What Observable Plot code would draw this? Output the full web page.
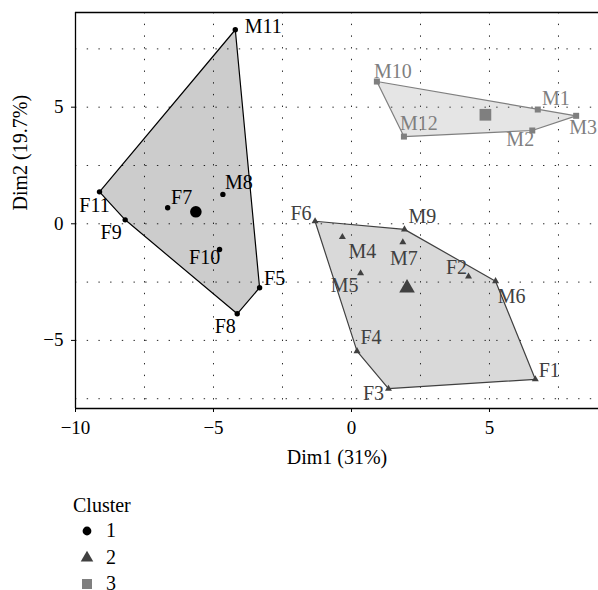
<!DOCTYPE html>
<html>
<head>
<meta charset="utf-8">
<script src="https://cdn.jsdelivr.net/npm/d3@7"></script>
<script src="https://cdn.jsdelivr.net/npm/@observablehq/plot@0.6"></script>
<style>
  html, body { margin: 0; padding: 0; background: #fff; }
  #wrap { position: relative; width: 598px; height: 590px; overflow: hidden; font-family: "Liberation Serif", serif; }
  #legend { position: absolute; left: 0; top: 0; width: 598px; height: 590px; pointer-events: none; }
  .lg { position: absolute; font-size: 20px; line-height: 24px; color: #000; white-space: nowrap; }
</style>
</head>
<body>
<div id="wrap"><div id="chart"></div><div id="legend"></div></div>
<script>
// ---- data ----
const names = ["M11","F11","F9","F7","M8","F10","F5","F8",
               "F6","M9","M4","M7","M5","F2","M6","F4","F3","F1",
               "M10","M1","M3","M2","M12"];
const dim1 = [-4.21,-9.13,-8.20,-6.66,-4.66,-4.78,-3.33,-4.14,
              -1.32, 1.92,-0.33, 1.86, 0.33, 4.24, 5.22, 0.20, 1.34, 6.66,
               0.92, 6.75, 8.14, 6.55, 1.90];
const dim2 = [ 8.32, 1.37, 0.17, 0.69, 1.26,-1.10,-2.74,-3.86,
               0.11,-0.24,-0.57,-0.79,-2.12,-2.26,-2.46,-5.46,-7.07,-6.67,
               6.10, 4.90, 4.63, 4.00, 3.74];
const cluster = ["1","1","1","1","1","1","1","1",
                 "2","2","2","2","2","2","2","2","2","2",
                 "3","3","3","3","3"];
const clusters = ["1","2","3"];
const xTicks = [-10, -5, 0, 5];
const yTicks = [-5, 0, 5];

// ---- styles ----
const clusterColors = ["#000000", "#404040", "#7f7f7f"];
const clusterSymbols = ["circle", "triangle", "square"];
const pointR = {"1": 2.7, "2": 2.6, "3": 3.4};
const centroidR = {"1": 5.8, "2": 5.8, "3": 6.6};
const legendSymbolArea = [Math.PI * 4.4 * 4.4, 68, 100];
const xDomain = [-10, 8.95];
const yDomain = [-7.92, 9.06];
// label nudges in pixels (text centre relative to point)
const labelNudge = {
  M11:[28,-3], F11:[-5,14], F9:[-14,13], F7:[14,-10], M8:[16,-12], F10:[-15,8], F5:[15,-9], F8:[-12,13],
  F6:[-14,-8], M9:[18,-13], M4:[20,15], M7:[1,16], M5:[-16,12], F2:[-12,-9], M6:[16,15], F4:[14,-14], F3:[-15,5], F1:[14,-9],
  M10:[16,-10], M1:[18,-11], M3:[7,12], M2:[-12,9], M12:[15,-13]
};

const data = names.map((n, i) => ({name: n, x: dim1[i], y: dim2[i], cluster: cluster[i]}));
const centroids = clusters.map(c => {
  const v = data.filter(d => d.cluster === c);
  return {cluster: c, x: d3.mean(v, d => d.x), y: d3.mean(v, d => d.y)};
});
const gridXs = d3.range(-10, xDomain[1], 2.5);
const gridYs = d3.range(-7.5, yDomain[1], 2.5);

const font = "Liberation Serif";
const dotMarks = [];
clusters.forEach((c, i) => {
  dotMarks.push(Plot.dot(data.filter(d => d.cluster === c), {
    x: "x", y: "y", symbol: () => clusterSymbols[i], fill: clusterColors[i], r: pointR[c]
  }));
  dotMarks.push(Plot.dot(centroids.filter(d => d.cluster === c), {
    x: "x", y: "y", symbol: () => clusterSymbols[i], fill: clusterColors[i], r: centroidR[c]
  }));
});

const chart = Plot.plot({
  width: 598,
  height: 480,
  marginTop: 12,
  marginBottom: 72,
  marginLeft: 75,
  marginRight: 0,
  style: {fontFamily: font, fontSize: "19px", color: "#000", background: "#fff"},
  x: {domain: xDomain},
  y: {domain: yDomain},
  color: {domain: clusters, range: clusterColors},
  symbol: {domain: clusterSymbols, range: clusterSymbols},
  marks: [
    Plot.gridX(gridXs, {stroke: "#000", strokeOpacity: 0.85, strokeDasharray: "1.4,10.3"}),
    Plot.gridY(gridYs, {stroke: "#000", strokeOpacity: 0.85, strokeDasharray: "1.4,10.3"}),
    Plot.hull(data, {x: "x", y: "y", z: "cluster", fill: "cluster", fillOpacity: 0.2, stroke: "cluster", strokeWidth: 1.2}),
    ...dotMarks,
    Plot.text(data, {x: "x", y: "y", text: "name", fill: "cluster", fontSize: 20}),
    Plot.ruleX([xDomain[0]], {stroke: "#000", strokeWidth: 1.3}),
    Plot.ruleY(yDomain, {stroke: "#000", strokeWidth: 1.3}),
    Plot.axisX(xTicks, {tickSize: 4, tickPadding: 8, fontSize: 19, label: null}),
    Plot.axisY(yTicks, {tickSize: 4, tickPadding: 8, fontSize: 19, label: null}),
    Plot.text(["Dim1 (31%)"], {frameAnchor: "bottom", text: d => d, dy: 55, fontSize: 20}),
    Plot.text(["Dim2 (19.7%)"], {frameAnchor: "left", text: d => d, rotate: -90, dx: -55, fontSize: 20})
  ]
});
document.getElementById("chart").appendChild(chart);

// apply label nudges to the point labels
chart.querySelectorAll("text").forEach(el => {
  const off = labelNudge[el.textContent.trim()];
  if (off) {
    const t = el.getAttribute("transform") || "";
    el.setAttribute("transform", `translate(${off[0]},${off[1]}) ${t}`);
  }
});

// ---- legend ----
const legend = document.getElementById("legend");
const title = document.createElement("div");
title.className = "lg";
title.textContent = "Cluster";
title.style.left = "73px";
title.style.top = (506 - 13) + "px";
legend.appendChild(title);
const rowY = [531, 557.5, 584];
clusters.forEach((c, i) => {
  const svg = d3.create("svg").attr("width", 20).attr("height", 20)
    .style("position", "absolute").style("left", "77px").style("top", (rowY[i] - 10) + "px");
  const sym = d3.symbol(
    {circle: d3.symbolCircle, triangle: d3.symbolTriangle, square: d3.symbolSquare}[clusterSymbols[i]],
    legendSymbolArea[i]
  );
  svg.append("path").attr("d", sym()).attr("transform", "translate(10,10)").attr("fill", clusterColors[i]);
  legend.appendChild(svg.node());
  const lab = document.createElement("div");
  lab.className = "lg";
  lab.textContent = c;
  lab.style.left = "106px";
  lab.style.top = (rowY[i] - 13) + "px";
  legend.appendChild(lab);
});
</script>
</body>
</html>
